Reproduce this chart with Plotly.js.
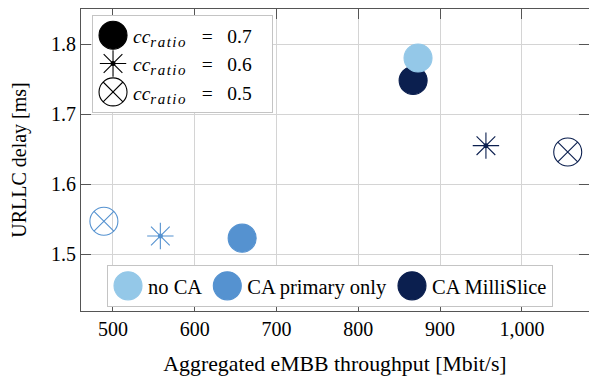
<!DOCTYPE html>
<html>
<head>
<meta charset="utf-8">
<script src="https://cdn.plot.ly/plotly-3.0.1.min.js"></script>
<style>
  html, body { margin: 0; padding: 0; background: #fff; overflow: hidden; }
  #chart { width: 589px; height: 376px; }
</style>
</head>
<body>
<div id="chart"></div>
<script>
// Aggregated eMBB throughput [Mbit/s] vs. URLLC delay [ms] for each carrier
// aggregation scheme, one point per cc_ratio value (0.7, 0.6, 0.5).
const ccRatios = ['0.7', '0.6', '0.5'];
const ratioSymbols = ['circle', 'asterisk-open', 'circle-x-open'];
const ratioSizes = [28, 22, 28];

const schemes = ['no CA', 'CA primary only', 'CA MilliSlice'];
const schemeColors = ['#94c8e8', '#5592d0', '#0b1f4f'];

const noCaThroughput = [873];
const noCaDelay = [1.780];
const primaryThroughput = [658, 558, 489];
const primaryDelay = [1.523, 1.526, 1.547];
const milliThroughput = [867, 956, 1056];
const milliDelay = [1.748, 1.655, 1.646];

const xTickVals = [500, 600, 700, 800, 900, 1000];
const xTickText = ['500', '600', '700', '800', '900', '1,000'];
const yTickVals = [1.5, 1.6, 1.7, 1.8];
const yTickText = ['1.5', '1.6', '1.7', '1.8'];

const FONT = 'Liberation Serif, Times New Roman, serif';
const AXIS_COLOR = '#555555';
const GRID_COLOR = '#d4d4d4';

const series = [
  { name: schemes[1], color: schemeColors[1], x: primaryThroughput, y: primaryDelay, rank: 2 },
  { name: schemes[2], color: schemeColors[2], x: milliThroughput, y: milliDelay, rank: 3 },
  { name: schemes[0], color: schemeColors[0], x: noCaThroughput, y: noCaDelay, rank: 1 }
];

const traces = [];

// scheme markers (symbol encodes the cc_ratio), listed in the bottom legend
series.forEach(s => {
  traces.push({
    type: 'scatter', mode: 'markers',
    x: s.x, y: s.y,
    name: s.name,
    legend: 'legend2',
    legendrank: s.rank,
    hoverinfo: 'x+y+name',
    marker: {
      symbol: ratioSymbols.slice(0, s.x.length),
      size: ratioSizes.slice(0, s.x.length),
      opacity: 1,
      color: s.color,
      line: { color: s.color, width: 1.1 }
    }
  });
  // centre dot of the asterisk marks
  const starIdx = ratioSymbols.indexOf('asterisk-open');
  if (s.x.length > starIdx) {
    traces.push({
      type: 'scatter', mode: 'markers',
      x: [s.x[starIdx]], y: [s.y[starIdx]],
      showlegend: false, hoverinfo: 'skip',
      marker: { symbol: 'circle', size: 5, opacity: 1, color: s.color }
    });
  }
});

// symbol key for the cc_ratio values (top-left legend)
ccRatios.forEach((r, i) => {
  traces.push({
    type: 'scatter', mode: 'markers',
    x: [null], y: [null],
    name: '<i>cc</i><sub><span style="font-size:15px;letter-spacing:1.5px"><i>ratio</i></span></sub>' +
          '&nbsp;&nbsp;&nbsp;=&nbsp;&nbsp; ' + r + '&nbsp;&nbsp;&nbsp;',
    legend: 'legend',
    hoverinfo: 'skip',
    marker: {
      symbol: ratioSymbols[i],
      size: ratioSizes[i],
      opacity: 1,
      color: '#000',
      line: { color: '#000', width: 1.1 }
    }
  });
});

const axisCommon = {
  showgrid: true, gridcolor: GRID_COLOR, gridwidth: 1,
  zeroline: false,
  showline: true, linecolor: AXIS_COLOR, linewidth: 1,
  mirror: 'ticks',
  ticks: 'inside', ticklen: 10, tickwidth: 1, tickcolor: AXIS_COLOR,
  tickfont: { family: FONT, size: 20, color: '#000' },
  fixedrange: true
};

const legendCommon = {
  bgcolor: '#ffffff', bordercolor: '#c4c4c4', borderwidth: 1,
  itemclick: false, itemdoubleclick: false
};

const layout = {
  width: 589, height: 376,
  margin: { l: 81, r: 0, t: 9, b: 65 },
  paper_bgcolor: '#ffffff', plot_bgcolor: '#ffffff',
  font: { family: FONT, size: 20, color: '#000' },
  showlegend: true,
  xaxis: Object.assign({}, axisCommon, {
    range: [461, 1082],
    tickmode: 'array', tickvals: xTickVals, ticktext: xTickText,
    title: { text: 'Aggregated eMBB throughput [Mbit/s]', standoff: 18, font: { family: FONT, size: 21.8, color: '#000' } }
  }),
  yaxis: Object.assign({}, axisCommon, {
    range: [1.419, 1.85],
    tickmode: 'array', tickvals: yTickVals, ticktext: yTickText,
    title: { text: 'URLLC delay [ms]', standoff: 19, font: { family: FONT, size: 20, color: '#000' } }
  }),
  legend: Object.assign({}, legendCommon, {
    font: { family: FONT, size: 19.5, color: '#000' },
    x: 0.0217, y: 0.98, xanchor: 'left', yanchor: 'top'
  }),
  legend2: Object.assign({}, legendCommon, {
    font: { family: FONT, size: 20.5, color: '#000' },
    orientation: 'h',
    x: 0.0512, y: 0.0132, xanchor: 'left', yanchor: 'bottom'
  })
};

const LEGEND_MAX_SYMBOL = 16;

Plotly.newPlot('chart', traces, layout, { displayModeBar: false, staticPlot: true }).then(gd => {
  // legend symbols are capped in size; draw them at the marker size used in the plot
  gd.querySelectorAll('.infolayer g.traces').forEach(g => {
    const d = g.__data__;
    if (!d || !d[0] || !d[0].trace) return;
    const tr = d[0].trace;
    const sz = Array.isArray(tr.marker.size) ? tr.marker.size[0] : tr.marker.size;
    const sym = Array.isArray(tr.marker.symbol) ? tr.marker.symbol[0] : tr.marker.symbol;
    const k = sz / LEGEND_MAX_SYMBOL;
    g.querySelectorAll('path.scatterpts').forEach(p => {
      const base = p.getAttribute('transform') || '';
      p.setAttribute('transform', base + ' scale(' + k + ')');
      p.style.vectorEffect = 'non-scaling-stroke';
      if (sym === 'asterisk-open') {
        const dot = document.createElementNS('http://www.w3.org/2000/svg', 'circle');
        dot.setAttribute('r', 2.5);
        dot.setAttribute('transform', base);
        dot.setAttribute('fill', tr.marker.color);
        p.parentNode.appendChild(dot);
      }
    });
  });
});
</script>
</body>
</html>
